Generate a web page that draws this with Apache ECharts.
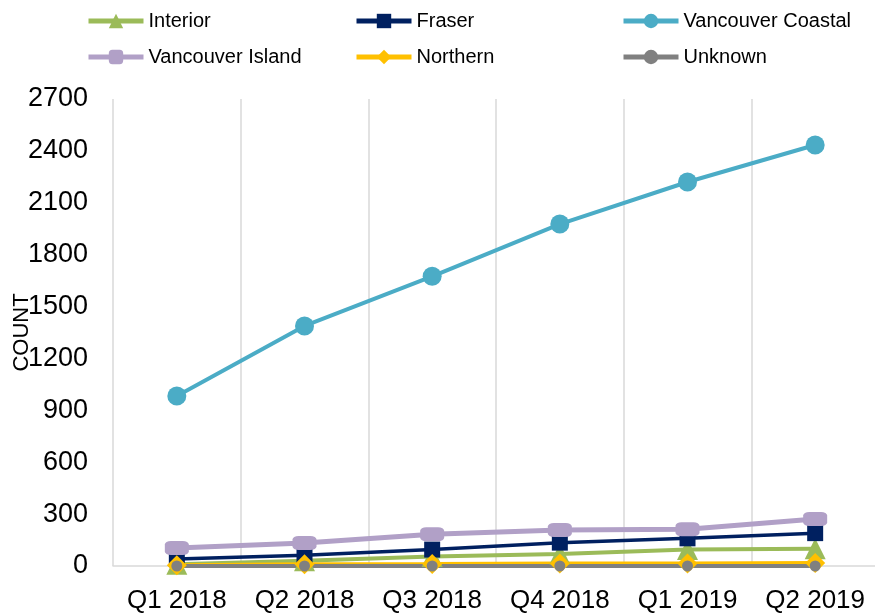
<!DOCTYPE html>
<html>
<head>
<meta charset="utf-8">
<script src="https://cdn.jsdelivr.net/npm/echarts@6/dist/echarts.min.js"></script>
<style>
  html, body { margin: 0; padding: 0; background: #fff; }
  #main { width: 875px; height: 615px; }
</style>
</head>
<body>
<div id="main"></div>
<script>
// quarters on the x axis
var quarters = ['Q1 2018', 'Q2 2018', 'Q3 2018', 'Q4 2018', 'Q1 2019', 'Q2 2019'];

// counts per health authority
var interior = [10, 30, 55, 70, 95, 100];
var fraser = [40, 62, 95, 135, 160, 190];
var vanCoastal = [983, 1388, 1675, 1977, 2220, 2434];
var vanIsland = [104, 133, 183, 208, 213, 272];
var northern = [5, 10, 12, 15, 15, 18];
var unknown = [0, 0, 0, 0, 0, 0];

var fontFam = 'Liberation Sans, Arial, sans-serif';

var myChart = echarts.init(document.getElementById('main'));

var legendBase = {
  orient: 'vertical',
  top: 6,
  itemWidth: 55,
  itemHeight: 18,
  itemGap: 16,
  lineStyle: { width: 5 },
  textStyle: { fontSize: 20, color: '#000', fontFamily: fontFam }
};

function mk(name, data, color, symbol, size, width) {
  return {
    name: name,
    type: 'line',
    data: data,
    symbol: symbol,
    symbolSize: size,
    showAllSymbol: true,
    lineStyle: { color: color, width: width },
    itemStyle: { color: color },
    smooth: false
  };
}

var option = {
  animation: false,
  legend: [
    Object.assign({ left: 81, data: ['Interior', 'Vancouver Island'] }, legendBase),
    Object.assign({ left: 349, data: ['Fraser', 'Northern'] }, legendBase),
    Object.assign({ left: 616, data: ['Vancouver Coastal', 'Unknown'] }, legendBase)
  ],
  grid: { left: 113, top: 99, bottom: 49, width: 766, containLabel: false, outerBoundsMode: 'none' },
  xAxis: {
    type: 'category',
    data: quarters,
    boundaryGap: true,
    axisLine: { lineStyle: { color: '#d9d9d9', width: 1.5 } },
    axisTick: { show: false, interval: 0 },
    axisLabel: { interval: 0, fontSize: 26, color: '#000', margin: 22, fontFamily: fontFam, hideOverlap: false },
    splitLine: { show: true, interval: 0, lineStyle: { color: '#d9d9d9', width: 1.5 } }
  },
  yAxis: {
    type: 'value',
    min: 0,
    max: 2700,
    interval: 300,
    name: 'COUNT',
    nameLocation: 'middle',
    nameGap: 80,
    nameMoveOverlap: false,
    nameTextStyle: { fontSize: 22, color: '#000', fontFamily: fontFam },
    axisLine: { show: false },
    axisTick: { show: false },
    splitLine: { show: false },
    axisLabel: {
      fontSize: 27, color: '#000', margin: 25, fontFamily: fontFam,
      formatter: function (v) { return String(v); }
    }
  },
  series: [
    mk('Interior', interior, '#9bbb59', 'triangle', 21, 4),
    mk('Fraser', fraser, '#002060', 'rect', 16, 3.5),
    mk('Vancouver Coastal', vanCoastal, '#4bacc6', 'circle', 19, 4),
    mk('Vancouver Island', vanIsland, '#b1a0c7', 'roundRect', [24, 14], 5),
    mk('Northern', northern, '#ffc000', 'diamond', 20, 4),
    mk('Unknown', unknown, '#808080', 'circle', 11, 4)
  ]
};

myChart.setOption(option);
</script>
</body>
</html>
